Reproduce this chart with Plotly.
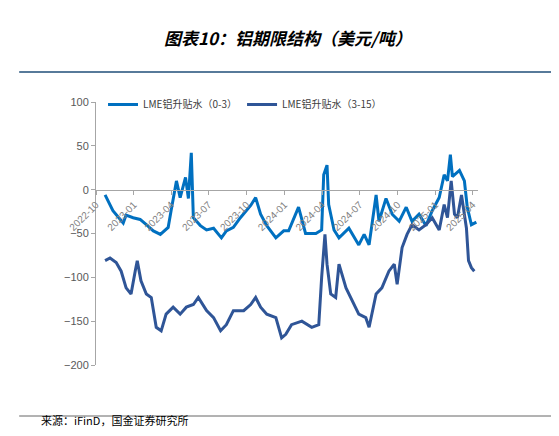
import plotly.graph_objects as go

s1_dates = ["2022-10-23","2022-11-11","2022-12-06","2022-12-13","2022-12-30","2023-01-16","2023-01-31","2023-02-17","2023-03-06","2023-03-25","2023-04-01","2023-04-14","2023-04-23","2023-05-06","2023-05-13","2023-05-20","2023-05-25","2023-06-11","2023-06-26","2023-07-13","2023-08-01","2023-08-13","2023-08-30","2023-09-16","2023-10-11","2023-10-23","2023-11-04","2023-11-19","2023-12-11","2023-12-30","2024-01-11","2024-02-04","2024-02-21","2024-03-17","2024-03-31","2024-04-05","2024-04-13","2024-04-17","2024-04-30","2024-05-12","2024-06-05","2024-06-29","2024-07-12","2024-07-24","2024-08-10","2024-08-17","2024-09-03","2024-09-18","2024-10-05","2024-10-22","2024-11-05","2024-11-22","2024-12-09","2024-12-24","2025-01-10","2025-01-22","2025-01-30","2025-02-06","2025-02-11","2025-02-28","2025-03-12","2025-03-19","2025-03-29","2025-04-10"]
s1_vals = [-6,-24,-38,-29,-32,-34,-40,-47,-51,-43,-24,10,-9,14,-10,42,-32,-41,-46,-44,-55,-47,-43,-32,-18,-9,-28,-41,-55,-47,-47,-20,-50,-50,-46,17,28,-17,-46,-55,-44,-63,-51,-63,-6,-36,-10,-28,-36,-20,-36,-28,-41,-24,-9,17,10,40,15,22,10,-20,-40,-37]

s2_dates = ["2022-10-23","2022-11-04","2022-11-19","2022-12-01","2022-12-13","2022-12-25","2023-01-04","2023-01-09","2023-01-18","2023-01-31","2023-02-12","2023-02-24","2023-03-08","2023-03-20","2023-04-06","2023-04-23","2023-05-08","2023-05-25","2023-06-06","2023-06-26","2023-07-13","2023-07-30","2023-08-13","2023-08-30","2023-09-24","2023-10-11","2023-10-23","2023-11-04","2023-11-19","2023-12-11","2023-12-25","2024-01-04","2024-01-18","2024-02-12","2024-03-07","2024-03-24","2024-03-31","2024-04-08","2024-04-13","2024-04-22","2024-05-04","2024-05-12","2024-05-29","2024-06-10","2024-06-29","2024-07-16","2024-07-24","2024-08-10","2024-08-24","2024-09-10","2024-09-23","2024-09-30","2024-10-12","2024-10-24","2024-11-05","2024-11-22","2024-12-09","2024-12-24","2025-01-10","2025-01-22","2025-01-30","2025-02-08","2025-02-16","2025-02-23","2025-03-05","2025-03-17","2025-03-22","2025-03-29","2025-04-05"]
s2_vals = [-81,-78,-83,-93,-112,-119,-93,-81,-104,-119,-123,-157,-161,-142,-134,-142,-134,-131,-123,-138,-146,-161,-154,-138,-138,-131,-123,-134,-142,-146,-169,-165,-154,-150,-157,-154,-100,-51,-85,-119,-123,-85,-112,-123,-142,-146,-157,-119,-112,-93,-85,-108,-66,-51,-40,-46,-40,-32,-46,-17,-32,10,-28,-32,-6,-44,-81,-89,-93]

s1_name = "LME铝升贴水（0-3）"
s2_name = "LME铝升贴水（3-15）"
title = "图表10：铝期限结构（美元/吨）"
source = "来源：iFinD，国金证券研究所"

W, H = 559, 436
def py(p): return 1 - p / H

fig = go.Figure()
fig.add_trace(go.Scatter(x=s1_dates, y=s1_vals, name=s1_name, mode="lines",
                         line=dict(color="#0070C0", width=3)))
fig.add_trace(go.Scatter(x=s2_dates, y=s2_vals, name=s2_name, mode="lines",
                         line=dict(color="#2F5597", width=3)))

font = "Noto Sans CJK SC"
fig.update_layout(
    width=W, height=H, margin=dict(l=0, r=0, t=0, b=0, autoexpand=False),
    paper_bgcolor="white", plot_bgcolor="white",
    font=dict(family=font, color="#595959", size=10),
    showlegend=True,
    legend=dict(orientation="h", x=0.17, y=py(82), xanchor="left", yanchor="top",
                font=dict(size=10, color="#404040"), tracegroupgap=0),
    xaxis=dict(domain=[88/W, 470/W], anchor="free", position=py(182), automargin=False,
               type="date", range=["2022-10-01", "2025-04-14"],
               dtick="M3", tick0="2022-10-01", tickformat="%Y-%m", tickangle=-45,
               showline=True, linecolor="#A6A6A6", linewidth=1, ticks="outside",
               ticklen=4, tickcolor="#A6A6A6", showgrid=False,
               tickfont=dict(size=10, color="#7F7F7F", family="Liberation Sans")),
    yaxis=dict(domain=[py(357), py(94)], range=[-200, 100], dtick=50, automargin=False,
               showline=True, linecolor="#A6A6A6", ticks="outside", ticklen=4,
               tickcolor="#A6A6A6", showgrid=False, zeroline=False,
               tickfont=dict(size=11, color="#595959", family="Liberation Sans")),
    annotations=[
        dict(text="<b><i>" + title + "</i></b>", x=0.5, y=py(15), xref="paper", yref="paper",
             showarrow=False, font=dict(size=17, color="black", family=font)),
        dict(text=source, x=0.055, y=py(422), xref="paper", yref="paper", xanchor="left",
             showarrow=False, font=dict(size=11, color="black", family=font)),
    ],
    shapes=[
        dict(type="line", xref="paper", yref="paper", x0=0.02, x1=0.99, y0=py(64), y1=py(64),
             line=dict(color="#1F4E79", width=1.5)),
        dict(type="line", xref="paper", yref="paper", x0=0.02, x1=0.99, y0=py(408), y1=py(408),
             line=dict(color="#404040", width=0.8)),
    ],
)
fig.write_html("out.html")
